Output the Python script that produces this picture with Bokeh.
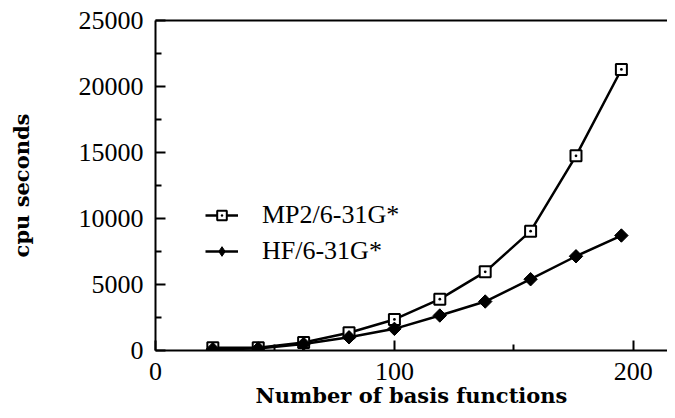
import numpy as np
from bokeh.plotting import figure
from bokeh.models import LinearAxis, Range1d, FixedTicker, Legend, LegendItem
from bokeh.embed import file_html
from bokeh.resources import INLINE

# Data
basis_functions = [24, 43, 62, 81, 100, 119, 138, 157, 176, 195]
mp2_cpu = [200, 200, 600, 1350, 2350, 3890, 5960, 9040, 14750, 21290]
hf_cpu = [100, 150, 500, 1000, 1640, 2650, 3710, 5400, 7140, 8710]
x_ticks = [0, 100, 200]
y_ticks = [0, 5000, 10000, 15000, 20000, 25000]
mp2_label = "MP2/6-31G*"
hf_label = "HF/6-31G*"

p = figure(width=667, height=410, output_backend="svg", toolbar_location=None,
           x_range=Range1d(0, 214.3), y_range=Range1d(0, 25000),
           min_border_left=155, min_border_right=0, min_border_top=20, min_border_bottom=60)
p.background_fill_color = "white"
p.border_fill_color = "white"
p.outline_line_color = None
p.grid.visible = False

mp2_line = p.line(basis_functions, mp2_cpu, line_color="black", line_width=2.5)
mp2_pts = p.scatter(basis_functions, mp2_cpu, marker="square_dot", size=11,
                    fill_color="white", line_color="black", line_width=2)
hf_line = p.line(basis_functions, hf_cpu, line_color="black", line_width=2.5)
# narrow diamond (used as legend glyph), hidden under the rotated squares
hf_leg = p.scatter(basis_functions, hf_cpu, marker="diamond", size=12,
                   fill_color="black", line_color="black", line_width=1)
hf_pts = p.scatter(basis_functions, hf_cpu, marker="square", size=9.5, angle=np.pi / 4,
                   fill_color="black", line_color="black", line_width=1)

tick_font = "Liberation Serif"
label_font = "DejaVu Serif"

xa = p.xaxis[0]
xa.ticker = FixedTicker(ticks=x_ticks, minor_ticks=[50, 150])
xa.axis_label = "Number of basis functions"
ya = p.yaxis[0]
ya.ticker = FixedTicker(ticks=y_ticks, minor_ticks=[2500, 7500, 12500, 17500, 22500])
ya.axis_label = "cpu seconds"

for ax in (xa, ya):
    ax.axis_line_width = 2
    ax.axis_line_color = "black"
    ax.major_tick_in = 10
    ax.major_tick_out = 0
    ax.minor_tick_in = 6
    ax.minor_tick_out = 0
    ax.major_tick_line_width = 2
    ax.minor_tick_line_width = 2
    ax.major_tick_line_color = "black"
    ax.minor_tick_line_color = "black"
    ax.major_label_text_font = tick_font
    ax.major_label_text_font_size = "26px"
    ax.major_label_text_color = "black"
    ax.axis_label_text_font = label_font
    ax.axis_label_text_font_style = "bold"
    ax.axis_label_text_font_size = "21px"
    ax.axis_label_text_color = "black"

xa.major_label_standoff = 12
xa.axis_label_standoff = 0
ya.major_label_standoff = 12
ya.axis_label_standoff = 42

top = LinearAxis(ticker=FixedTicker(ticks=[]), axis_line_width=2, axis_line_color="black",
                 major_tick_line_color=None, minor_tick_line_color=None,
                 major_label_text_font_size="0px")
p.add_layout(top, "above")

legend = Legend(items=[LegendItem(label=mp2_label, renderers=[mp2_line, mp2_pts]),
                       LegendItem(label=hf_label, renderers=[hf_line, hf_leg])],
                location=(50, 84), orientation="vertical",
                glyph_width=33, glyph_height=24, label_height=24, label_standoff=24,
                spacing=6, padding=0, margin=0,
                border_line_color=None, background_fill_alpha=0,
                label_text_font=tick_font, label_text_font_size="26px",
                label_text_color="black")
p.add_layout(legend, "center")

open("out.html", "w").write(file_html(p, INLINE))
